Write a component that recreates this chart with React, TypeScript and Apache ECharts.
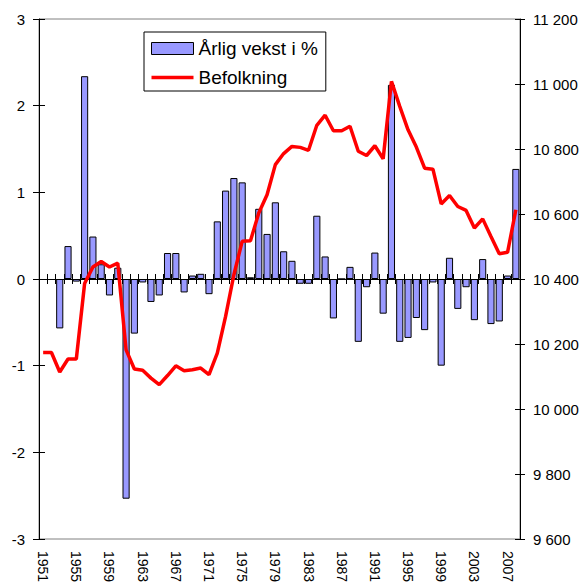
import React, { useEffect, useRef } from 'react';
import * as echarts from 'echarts';

const years = [
  '1951', '1952', '1953', '1954', '1955', '1956', '1957', '1958', '1959', '1960',
  '1961', '1962', '1963', '1964', '1965', '1966', '1967', '1968', '1969', '1970',
  '1971', '1972', '1973', '1974', '1975', '1976', '1977', '1978', '1979', '1980',
  '1981', '1982', '1983', '1984', '1985', '1986', '1987', '1988', '1989', '1990',
  '1991', '1992', '1993', '1994', '1995', '1996', '1997', '1998', '1999', '2000',
  '2001', '2002', '2003', '2004', '2005', '2006', '2007', '2008',
];

const growth = [
  null, null, -0.57, 0.38, -0.03, 2.34, 0.49, 0.17, -0.19, 0.13,
  -2.535, -0.63, -0.04, -0.265, -0.19, 0.3, 0.3, -0.155, 0.04, 0.06,
  -0.175, 0.665, 1.02, 1.165, 1.115, 0.02, 0.81, 0.52, 0.885, 0.32,
  0.21, -0.055, -0.055, 0.73, 0.26, -0.455, 0, 0.14, -0.725, -0.095,
  0.305, -0.4, 2.24, -0.725, -0.68, -0.45, -0.59, -0.04, -1.0, 0.245,
  -0.345, -0.095, -0.475, 0.23, -0.52, -0.49, 0.04, 1.27,
];

const population = [
  10174, 10174, 10114, 10154, 10154, 10386, 10437, 10454, 10437, 10449,
  10182, 10123, 10119, 10095, 10075, 10103, 10133, 10118, 10121, 10126,
  10106, 10172, 10285, 10413, 10516, 10518, 10603, 10659, 10752, 10786,
  10808, 10805, 10796, 10873, 10904, 10856, 10856, 10870, 10793, 10780,
  10810, 10770, 11008, 10931, 10859, 10806, 10741, 10738, 10631, 10657,
  10623, 10611, 10557, 10585, 10531, 10478, 10482, 10613,
];

const leftMin = -3;
const leftMax = 3;
const leftStep = 1;
const rightMin = 9600;
const rightMax = 11200;
const rightStep = 200;

const fmtThousands = (v: number) => {
  if (Math.abs(v) < 1000) return String(v);
  const t = Math.floor(v / 1000);
  const r = String(v % 1000).padStart(3, '0');
  return `${t} ${r}`;
};

export default function App() {
  const ref = useRef<HTMLDivElement>(null);
  useEffect(() => {
    if (!ref.current) return;
    const chart = echarts.init(ref.current, null, { renderer: 'svg' });
    const font = '"Liberation Sans", Arial, sans-serif';
    const cat = { type: 'category', data: years, boundaryGap: true, splitLine: { show: false } };
    const zeroAxis = (position: string) => ({
      ...cat,
      position,
      z: 5,
      axisLine: { show: true, onZero: true, onZeroAxisIndex: 0, lineStyle: { color: '#000', width: 1 } },
      axisTick: { show: true, interval: 0, length: 5, lineStyle: { color: '#000', width: 1 } },
      axisLabel: { show: false },
    });
    const leftBase = { type: 'value', min: leftMin, max: leftMax, interval: leftStep, splitLine: { show: false } };
    const rightBase = { type: 'value', min: rightMin, max: rightMax, interval: rightStep, splitLine: { show: false } };
    chart.setOption({
      animation: false,
      textStyle: { fontFamily: font },
      grid: {
        left: 39, right: 59, top: 19, bottom: 45,
        outerBoundsMode: 'none',
        containLabel: false,
        show: true, borderColor: '#808080', borderWidth: 1, backgroundColor: 'transparent',
      },
      legend: {
        left: 144,
        top: 32,
        orient: 'vertical',
        itemWidth: 42,
        itemHeight: 12,
        itemGap: 10,
        padding: [7, 8, 4, 7],
        borderColor: '#000',
        borderWidth: 1,
        borderRadius: 0,
        textStyle: { fontSize: 19, color: '#000', fontFamily: font },
        data: [
          { name: 'Årlig vekst i %', icon: 'rect', itemStyle: { color: '#9999FF', borderColor: '#000', borderWidth: 1 } },
          { name: 'Befolkning', icon: 'path://M0,0H42V3.5H0Z', itemStyle: { color: '#FF0000', borderWidth: 0 } },
        ],
      },
      xAxis: [
        {
          ...cat,
          position: 'bottom',
          axisLine: { show: false, onZero: false },
          axisTick: { show: false },
          axisLabel: { rotate: -90, interval: 3, margin: 12, fontSize: 14, color: '#000', fontFamily: font },
        },
        zeroAxis('bottom'),
        zeroAxis('top'),
      ],
      yAxis: [
        {
          ...leftBase,
          position: 'left',
          axisLine: { show: true, lineStyle: { color: '#000', width: 1 } },
          axisTick: { show: true, length: 6, lineStyle: { color: '#000' } },
          axisLabel: { margin: 14, fontSize: 15, color: '#000', fontFamily: font },
        },
        {
          ...rightBase,
          position: 'right',
          axisLine: { show: true, lineStyle: { color: '#000', width: 1 } },
          axisTick: { show: true, length: 5, lineStyle: { color: '#000' } },
          axisLabel: { margin: 13, fontSize: 15, color: '#000', fontFamily: font, formatter: fmtThousands },
        },
        {
          ...leftBase,
          position: 'left',
          axisLine: { show: false },
          axisTick: { show: true, inside: true, length: 6, lineStyle: { color: '#000' } },
          axisLabel: { show: false },
        },
        {
          ...rightBase,
          position: 'right',
          axisLine: { show: false },
          axisTick: { show: true, inside: true, length: 5, lineStyle: { color: '#000' } },
          axisLabel: { show: false },
        },
      ],
      series: [
        {
          name: 'Årlig vekst i %',
          type: 'bar',
          xAxisIndex: 0,
          yAxisIndex: 0,
          data: growth,
          barCategoryGap: '14%',
          itemStyle: { color: '#9999FF', borderColor: '#000', borderWidth: 1 },
          z: 2,
        },
        {
          name: 'Befolkning',
          type: 'line',
          xAxisIndex: 0,
          yAxisIndex: 1,
          data: population,
          symbol: 'none',
          showSymbol: false,
          lineStyle: { color: '#FF0000', width: 3.5 },
          itemStyle: { color: '#FF0000' },
          z: 6,
        },
      ],
    });
    return () => chart.dispose();
  }, []);
  return <div ref={ref} style={{ position: 'absolute', left: 0, top: 0, width: 579, height: 584 }} />;
}
